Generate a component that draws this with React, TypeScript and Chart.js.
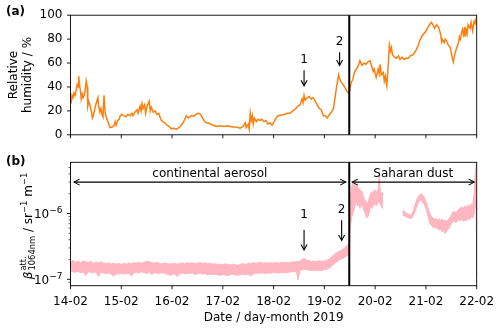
import React, { useEffect, useRef } from 'react';
import { Chart, registerables } from 'chart.js';

Chart.register(...registerables);

const FAMILY = "'DejaVu Sans', 'Liberation Sans', sans-serif";
const ORANGE = '#ff7f0e';
const PINK = '#ffb6c1';

// ---------- axis ticks ----------
const xTickValues = [14, 15, 16, 17, 18, 19, 20, 21, 22];
const xTickLabels = ['14-02', '15-02', '16-02', '17-02', '18-02', '19-02', '20-02', '21-02', '22-02'];
const rhTickValues = [0, 20, 40, 60, 80, 100];
const logMajorTicks = [1e-7, 1e-6];
const logMajorExponents = ['−7', '−6'];
const logMinorTicks = [9e-8, 2e-7, 3e-7, 4e-7, 5e-7, 6e-7, 7e-7, 8e-7, 9e-7, 2e-6, 3e-6, 4e-6, 5e-6];

// ---------- relative humidity (panel a) ----------
const rhDays = [14.01, 14.03, 14.05, 14.07, 14.09, 14.11, 14.13, 14.15, 14.16, 14.18, 14.20, 14.21, 14.23, 14.25, 14.27, 14.29, 14.31, 14.33, 14.34, 14.36, 14.38, 14.41, 14.43, 14.45, 14.48, 14.51, 14.54, 14.55, 14.58, 14.60, 14.62, 14.64, 14.66, 14.68, 14.70, 14.73, 14.76, 14.78, 14.82, 14.86, 14.88, 14.90, 14.93, 14.96, 14.98, 15.01, 15.05, 15.09, 15.13, 15.17, 15.21, 15.23, 15.27, 15.31, 15.33, 15.37, 15.39, 15.41, 15.43, 15.46, 15.48, 15.51, 15.55, 15.57, 15.59, 15.63, 15.67, 15.70, 15.74, 15.76, 15.79, 15.82, 15.86, 15.90, 15.94, 15.99, 16.04, 16.08, 16.12, 16.16, 16.20, 16.24, 16.28, 16.32, 16.35, 16.39, 16.43, 16.47, 16.51, 16.55, 16.59, 16.63, 16.67, 16.71, 16.75, 16.81, 16.87, 16.95, 17.02, 17.10, 17.18, 17.26, 17.34, 17.40, 17.44, 17.46, 17.50, 17.52, 17.54, 17.56, 17.58, 17.60, 17.62, 17.66, 17.69, 17.73, 17.77, 17.81, 17.85, 17.89, 17.93, 17.97, 18.01, 18.05, 18.09, 18.15, 18.21, 18.27, 18.32, 18.38, 18.44, 18.48, 18.52, 18.56, 18.58, 18.60, 18.62, 18.66, 18.70, 18.74, 18.78, 18.82, 18.86, 18.90, 18.94, 18.98, 19.02, 19.06, 19.10, 19.14, 19.18, 19.22, 19.24, 19.26, 19.28, 19.30, 19.33, 19.37, 19.41, 19.45, 19.49, 19.51, 19.53, 19.56, 19.59, 19.63, 19.67, 19.70, 19.74, 19.78, 19.82, 19.86, 19.90, 19.94, 19.96, 19.98, 20.02, 20.06, 20.08, 20.10, 20.12, 20.16, 20.18, 20.20, 20.23, 20.26, 20.28, 20.30, 20.32, 20.34, 20.38, 20.42, 20.46, 20.49, 20.53, 20.57, 20.61, 20.65, 20.69, 20.75, 20.81, 20.85, 20.89, 20.93, 20.99, 21.03, 21.07, 21.11, 21.15, 21.17, 21.21, 21.25, 21.29, 21.31, 21.32, 21.36, 21.38, 21.40, 21.44, 21.48, 21.50, 21.52, 21.54, 21.56, 21.60, 21.64, 21.66, 21.68, 21.70, 21.72, 21.74, 21.76, 21.77, 21.79, 21.81, 21.83, 21.87, 21.89, 21.92, 21.95, 21.97, 22.00];
const rhValues = [26, 33, 31, 35, 33, 37, 42, 40, 49, 41, 36, 30, 34, 31, 33, 38, 45, 40, 24, 28, 25, 20, 14, 16, 22, 27, 31, 25, 19, 22, 17, 15, 33, 20, 15, 12, 8, 6, 6.5, 8, 11, 8, 12, 13, 16, 17, 16, 15, 17, 16, 18, 16, 19, 21, 18, 24, 20, 26, 22, 25, 18, 24, 28, 20, 23, 19, 20, 17, 18, 15, 12, 11, 10, 8, 7, 5, 5.5, 4.5, 5.5, 7, 9, 12, 16, 14, 15, 16, 15.5, 17, 18, 17.5, 15, 12, 10, 10, 9, 8, 7, 7.5, 7, 7.5, 6.5, 6.5, 5.5, 7, 10, 6, 9, 5, 18, 12, 16, 9, 14, 11, 13, 12, 13, 11, 12, 9, 10, 8, 11, 14, 16, 16.5, 17, 18, 18, 20, 22, 24, 25, 30, 27, 33, 29, 31, 32, 30, 31, 28, 25, 22, 21, 16, 16, 14, 17, 19, 22, 34, 40, 45, 50, 47, 44, 42, 39, 36, 35, 40, 44, 46, 52, 55, 58, 62, 58, 60, 59, 61, 62, 56, 53, 55, 48, 55, 51, 59, 50, 52, 45, 49, 41, 60, 75, 70, 73, 67, 65, 64, 66, 63, 65, 63, 64, 64, 66, 67, 71, 75, 80, 83, 86, 89, 92, 94, 91, 89, 92, 90, 84, 78, 80, 77, 80, 79, 75, 73, 68, 64, 61, 66, 72, 77, 82, 80, 85, 88, 84, 90, 82, 88, 84, 92, 89, 94, 87, 95, 93, 99];

// ---------- attenuated backscatter (panel b): band envelope ----------
const btDays = [14.00, 14.05, 14.10, 14.15, 14.20, 14.25, 14.30, 14.35, 14.40, 14.45, 14.50, 14.55, 14.60, 14.65, 14.70, 14.75, 14.80, 14.85, 14.90, 14.95, 15.00, 15.05, 15.10, 15.15, 15.20, 15.25, 15.30, 15.35, 15.40, 15.45, 15.50, 15.55, 15.60, 15.65, 15.70, 15.75, 15.80, 15.85, 15.90, 15.95, 16.00, 16.05, 16.10, 16.15, 16.20, 16.25, 16.30, 16.35, 16.40, 16.45, 16.50, 16.55, 16.60, 16.65, 16.70, 16.75, 16.80, 16.85, 16.90, 16.95, 17.00, 17.05, 17.10, 17.15, 17.20, 17.25, 17.30, 17.35, 17.40, 17.45, 17.50, 17.55, 17.60, 17.65, 17.70, 17.75, 17.80, 17.85, 17.90, 17.95, 18.00, 18.05, 18.10, 18.15, 18.20, 18.25, 18.30, 18.35, 18.40, 18.45, 18.48, 18.52, 18.56, 18.60, 18.65, 18.70, 18.75, 18.80, 18.85, 18.90, 18.95, 19.00, 19.05, 19.10, 19.15, 19.20, 19.25, 19.30, 19.35, 19.40, 19.45, 19.49, 19.50, 19.52, 19.54, 19.56, 19.58, 19.60, 19.62, 19.64, 19.66, 19.68, 19.70, 19.72, 19.74, 19.76, 19.78, 19.80, 19.82, 19.84, 19.86, 19.88, 19.90, 19.92, 19.94, 19.96, 19.98, 20.00, 20.02, 20.04, 20.06, 20.08, 20.10, 20.12, 20.14, 20.16, 20.35, 20.54, 20.57, 20.60, 20.63, 20.66, 20.69, 20.72, 20.75, 20.78, 20.81, 20.84, 20.87, 20.90, 20.93, 20.96, 20.99, 21.02, 21.05, 21.08, 21.11, 21.14, 21.17, 21.20, 21.23, 21.26, 21.29, 21.32, 21.35, 21.38, 21.41, 21.44, 21.47, 21.50, 21.53, 21.56, 21.59, 21.62, 21.65, 21.68, 21.71, 21.74, 21.77, 21.80, 21.83, 21.86, 21.89, 21.92, 21.95, 21.97, 21.99, 22.00];
const btUpper = [1.85e-7, 1.95e-7, 1.80e-7, 1.90e-7, 1.78e-7, 1.92e-7, 1.85e-7, 1.80e-7, 1.88e-7, 1.75e-7, 1.82e-7, 1.78e-7, 1.85e-7, 1.75e-7, 1.72e-7, 1.78e-7, 1.70e-7, 1.76e-7, 1.70e-7, 1.74e-7, 1.68e-7, 1.75e-7, 1.70e-7, 1.78e-7, 1.72e-7, 1.80e-7, 1.76e-7, 1.82e-7, 1.75e-7, 1.80e-7, 1.90e-7, 1.85e-7, 1.80e-7, 1.76e-7, 1.82e-7, 1.75e-7, 1.72e-7, 1.78e-7, 1.74e-7, 1.70e-7, 1.72e-7, 1.76e-7, 1.70e-7, 1.74e-7, 1.78e-7, 1.72e-7, 1.80e-7, 1.75e-7, 1.78e-7, 1.72e-7, 1.76e-7, 1.80e-7, 1.74e-7, 1.78e-7, 1.72e-7, 1.75e-7, 1.70e-7, 1.72e-7, 1.68e-7, 1.70e-7, 1.66e-7, 1.72e-7, 1.68e-7, 1.65e-7, 1.70e-7, 1.66e-7, 1.64e-7, 1.70e-7, 1.72e-7, 1.68e-7, 1.75e-7, 1.72e-7, 1.80e-7, 1.74e-7, 1.78e-7, 1.82e-7, 1.76e-7, 1.80e-7, 1.75e-7, 1.78e-7, 1.76e-7, 1.80e-7, 1.76e-7, 1.82e-7, 1.78e-7, 1.80e-7, 1.78e-7, 1.85e-7, 1.82e-7, 1.88e-7, 1.85e-7, 1.90e-7, 2.00e-7, 2.10e-7, 1.95e-7, 1.92e-7, 1.88e-7, 1.90e-7, 1.86e-7, 1.92e-7, 1.88e-7, 1.90e-7, 1.95e-7, 2.05e-7, 2.20e-7, 2.40e-7, 2.55e-7, 2.70e-7, 2.80e-7, 3.00e-7, 3.30e-7, 3.50e-7, 1.4e-6, 2.0e-6, 2.6e-6, 3.0e-6, 2.2e-6, 2.8e-6, 2.4e-6, 2.7e-6, 2.5e-6, 2.2e-6, 2.4e-6, 2.0e-6, 2.2e-6, 1.9e-6, 1.7e-6, 1.6e-6, 1.5e-6, 1.4e-6, 1.5e-6, 1.7e-6, 1.9e-6, 2.1e-6, 2.0e-6, 2.2e-6, 2.0e-6, 2.3e-6, 2.1e-6, 2.2e-6, 2.4e-6, 4.2e-6, 2.2e-6, 2.0e-6, 2.1e-6, 1.9e-6, null, 1.15e-6, 1.10e-6, 1.02e-6, 1.00e-6, 9.8e-7, 9.4e-7, 9.6e-7, 1.10e-6, 1.30e-6, 1.55e-6, 1.75e-6, 1.90e-6, 2.00e-6, 1.95e-6, 1.80e-6, 1.60e-6, 1.40e-6, 1.15e-6, 1.00e-6, 9.0e-7, 8.5e-7, 8.2e-7, 8.4e-7, 8.0e-7, 8.3e-7, 7.9e-7, 8.2e-7, 7.8e-7, 8.0e-7, 7.6e-7, 8.0e-7, 8.6e-7, 9.6e-7, 1.05e-6, 1.08e-6, 1.02e-6, 1.10e-6, 1.16e-6, 1.22e-6, 1.26e-6, 1.20e-6, 1.30e-6, 1.25e-6, 1.35e-6, 1.28e-6, 1.40e-6, 1.30e-6, 2.0e-6, 4.0e-6, 5.5e-6, 4.8e-6];
const btLower = [1.35e-7, 1.30e-7, 1.28e-7, 1.32e-7, 1.25e-7, 1.30e-7, 1.15e-7, 1.30e-7, 1.28e-7, 1.27e-7, 1.30e-7, 1.10e-7, 1.28e-7, 1.25e-7, 1.22e-7, 1.26e-7, 1.20e-7, 1.12e-7, 1.22e-7, 1.20e-7, 1.24e-7, 1.20e-7, 1.22e-7, 1.25e-7, 1.12e-7, 1.26e-7, 1.28e-7, 1.25e-7, 1.30e-7, 1.27e-7, 1.22e-7, 1.30e-7, 1.18e-7, 1.26e-7, 1.25e-7, 1.22e-7, 1.26e-7, 1.24e-7, 1.20e-7, 1.15e-7, 1.18e-7, 1.22e-7, 1.10e-7, 1.22e-7, 1.25e-7, 1.20e-7, 1.24e-7, 1.22e-7, 1.25e-7, 1.18e-7, 1.22e-7, 1.24e-7, 1.20e-7, 1.22e-7, 1.16e-7, 1.20e-7, 1.18e-7, 1.20e-7, 1.17e-7, 1.15e-7, 1.18e-7, 1.16e-7, 1.14e-7, 1.18e-7, 1.20e-7, 1.17e-7, 1.15e-7, 1.18e-7, 1.20e-7, 1.16e-7, 1.20e-7, 1.12e-7, 1.22e-7, 1.25e-7, 1.22e-7, 1.26e-7, 1.24e-7, 1.22e-7, 1.26e-7, 1.24e-7, 1.28e-7, 1.26e-7, 1.24e-7, 1.28e-7, 1.26e-7, 1.27e-7, 1.28e-7, 1.30e-7, 1.30e-7, 1.32e-7, 0.98e-7, 1.35e-7, 1.40e-7, 1.42e-7, 1.40e-7, 1.38e-7, 1.36e-7, 1.38e-7, 1.35e-7, 1.38e-7, 1.36e-7, 1.40e-7, 1.42e-7, 1.50e-7, 1.60e-7, 1.75e-7, 1.85e-7, 2.00e-7, 2.05e-7, 2.15e-7, 2.30e-7, 2.40e-7, 5.5e-7, 7.0e-7, 9.0e-7, 1.0e-6, 1.1e-6, 1.3e-6, 1.4e-6, 1.5e-6, 1.3e-6, 1.4e-6, 1.2e-6, 1.3e-6, 1.4e-6, 1.2e-6, 1.1e-6, 1.0e-6, 9.0e-7, 8.6e-7, 9.0e-7, 1.0e-6, 1.2e-6, 1.3e-6, 1.2e-6, 1.3e-6, 1.4e-6, 1.4e-6, 1.3e-6, 1.4e-6, 1.5e-6, 1.5e-6, 1.4e-6, 1.3e-6, 1.2e-6, 1.2e-6, null, 9.5e-7, 9.3e-7, 8.9e-7, 8.8e-7, 8.6e-7, 8.4e-7, 8.5e-7, 9.2e-7, 1.05e-6, 1.20e-6, 1.40e-6, 1.55e-6, 1.60e-6, 1.50e-6, 1.40e-6, 1.26e-6, 1.05e-6, 8.5e-7, 7.0e-7, 6.5e-7, 6.2e-7, 6.0e-7, 6.2e-7, 5.8e-7, 5.6e-7, 5.8e-7, 5.2e-7, 5.6e-7, 4.9e-7, 5.5e-7, 5.8e-7, 6.2e-7, 7.0e-7, 7.5e-7, 7.6e-7, 7.2e-7, 7.8e-7, 8.0e-7, 7.8e-7, 8.2e-7, 7.6e-7, 8.0e-7, 7.8e-7, 8.5e-7, 8.0e-7, 9.0e-7, 8.5e-7, 1.0e-6, 1.2e-6, 1.5e-6, 1.1e-7];

// ---------- annotations ----------
const eventDay = 19.49;
const arrowLabels = ['1', '2'];
const topArrowDays = [18.6, 19.3];
const topArrowTail = [54, 69];
const topArrowTip = [41, 58];
const topArrowText = [63, 78];
const botArrowDays = [18.6, 19.34];
const botArrowTail = [5.6e-7, 7.9e-7];
const botArrowTip = [2.8e-7, 3.9e-7];
const botArrowText = [9.4e-7, 1.15e-6];
const periodLabels = ['continental aerosol', 'Saharan dust'];
const periodStart = [14.07, 19.55];
const periodEnd = [19.42, 21.95];
const periodArrowY = 3.0e-6;
const periodTextY = 4.05e-6;

const font = (size: number, extra = '') => `${extra} ${size}px ${FAMILY}`.trim();

function line(ctx: CanvasRenderingContext2D, x0: number, y0: number, x1: number, y1: number) {
  ctx.beginPath();
  ctx.moveTo(x0, y0);
  ctx.lineTo(x1, y1);
  ctx.stroke();
}

function head(ctx: CanvasRenderingContext2D, tx: number, ty: number, dx: number, dy: number) {
  const len = 5.5, half = 3;
  const bx = tx - dx * len, by = ty - dy * len;
  const px = -dy, py = dx;
  ctx.beginPath();
  ctx.moveTo(bx + px * half, by + py * half);
  ctx.lineTo(tx, ty);
  ctx.lineTo(bx - px * half, by - py * half);
  ctx.stroke();
}

function drawFrameAndTicks(chart: any, logMode: boolean) {
  const { ctx, chartArea: a, scales } = chart;
  const x = scales.x, y = scales.y;
  ctx.save();
  ctx.strokeStyle = '#000';
  ctx.fillStyle = '#000';
  ctx.lineWidth = 0.9;
  ctx.strokeRect(a.left, a.top, a.right - a.left, a.bottom - a.top);
  xTickValues.forEach((v, i) => {
    const px = x.getPixelForValue(v);
    line(ctx, px, a.bottom, px, a.bottom + 3.5);
    if (logMode) {
      ctx.font = font(12);
      ctx.textAlign = 'center';
      ctx.textBaseline = 'alphabetic';
      ctx.fillText(xTickLabels[i], px, a.bottom + 19.3);
    }
  });
  if (!logMode) {
    rhTickValues.forEach((v) => {
      const py = y.getPixelForValue(v);
      line(ctx, a.left - 3.5, py, a.left, py);
    });
  } else {
    logMajorTicks.forEach((v, i) => {
      const py = y.getPixelForValue(v);
      line(ctx, a.left - 3.5, py, a.left, py);
      ctx.textBaseline = 'alphabetic';
      ctx.textAlign = 'left';
      ctx.font = font(9);
      const we = ctx.measureText(logMajorExponents[i]).width;
      ctx.font = font(12);
      const wb = ctx.measureText('10').width;
      const right = a.left - 8;
      const base = py + 4.4;
      ctx.fillText('10', right - we - wb, base);
      ctx.font = font(9);
      ctx.fillText(logMajorExponents[i], right - we, base - 5);
    });
    ctx.lineWidth = 0.6;
    logMinorTicks.forEach((v) => {
      const py = y.getPixelForValue(v);
      if (py < a.top || py > a.bottom) return;
      line(ctx, a.left - 2, py, a.left, py);
    });
  }
  ctx.restore();
}

const topPlugin = {
  id: 'topDecor',
  afterDatasetsDraw(chart: any) {
    const { ctx, chartArea: a, scales } = chart;
    const x = scales.x, y = scales.y;
    ctx.save();
    ctx.strokeStyle = '#000';
    ctx.lineWidth = 2;
    const ex = x.getPixelForValue(eventDay);
    line(ctx, ex, a.top, ex, a.bottom);
    ctx.lineWidth = 1.1;
    ctx.fillStyle = '#000';
    ctx.font = font(12);
    ctx.textAlign = 'center';
    ctx.textBaseline = 'middle';
    topArrowDays.forEach((d, i) => {
      const px = x.getPixelForValue(d);
      const y0 = y.getPixelForValue(topArrowTail[i]);
      const y1 = y.getPixelForValue(topArrowTip[i]);
      line(ctx, px, y0, px, y1);
      head(ctx, px, y1, 0, 1);
      ctx.fillText(arrowLabels[i], px, y.getPixelForValue(topArrowText[i]));
    });
    ctx.restore();
  },
  afterDraw(chart: any) {
    const { ctx, chartArea: a } = chart;
    drawFrameAndTicks(chart, false);
    ctx.save();
    ctx.fillStyle = '#000';
    ctx.font = font(12, 'bold');
    ctx.textAlign = 'left';
    ctx.textBaseline = 'alphabetic';
    ctx.fillText('(a)', 6, 15);
    const yc = (a.top + a.bottom) / 2;
    ctx.font = font(12);
    ctx.textAlign = 'center';
    [['Relative', 16.5], ['humidity / %', 31]].forEach(([t, xb]) => {
      ctx.save();
      ctx.translate(xb as number, yc);
      ctx.rotate(-Math.PI / 2);
      ctx.fillText(t as string, 0, 0);
      ctx.restore();
    });
    ctx.restore();
  },
};

function drawBetaLabel(ctx: CanvasRenderingContext2D, xb: number, yc: number) {
  const fBig = font(12);
  const fBeta = font(12, 'italic');
  const fSmall = font(8.4);
  ctx.save();
  ctx.translate(xb, yc);
  ctx.rotate(-Math.PI / 2);
  ctx.fillStyle = '#000';
  ctx.textAlign = 'left';
  ctx.textBaseline = 'alphabetic';
  ctx.font = fBeta;
  const wb = ctx.measureText('β').width;
  ctx.font = fSmall;
  const wsup = ctx.measureText('att.').width;
  const wsub = ctx.measureText('1064nm').width;
  const wexp = ctx.measureText('−1').width;
  ctx.font = fBig;
  const w1 = ctx.measureText(' / sr').width;
  const w2 = ctx.measureText(' m').width;
  const total = wb + 1 + Math.max(wsup, wsub) + w1 + wexp + w2 + wexp;
  let x = -total / 2;
  ctx.font = fBeta;
  ctx.fillText('β', x, 0);
  x += wb + 1;
  ctx.font = fSmall;
  ctx.fillText('att.', x, -6);
  ctx.fillText('1064nm', x, 3);
  x += Math.max(wsup, wsub);
  ctx.font = fBig;
  ctx.fillText(' / sr', x, 0);
  x += w1;
  ctx.font = fSmall;
  ctx.fillText('−1', x, -5);
  x += wexp;
  ctx.font = fBig;
  ctx.fillText(' m', x, 0);
  x += w2;
  ctx.font = fSmall;
  ctx.fillText('−1', x, -5);
  ctx.restore();
}

const botPlugin = {
  id: 'botDecor',
  afterDatasetsDraw(chart: any) {
    const { ctx, chartArea: a, scales } = chart;
    const x = scales.x, y = scales.y;
    ctx.save();
    ctx.strokeStyle = '#000';
    ctx.lineWidth = 2;
    const ex = x.getPixelForValue(eventDay);
    line(ctx, ex, a.top, ex, a.bottom);
    ctx.lineWidth = 1.1;
    ctx.fillStyle = '#000';
    ctx.font = font(12);
    ctx.textAlign = 'center';
    ctx.textBaseline = 'middle';
    botArrowDays.forEach((d, i) => {
      const px = x.getPixelForValue(d);
      const y0 = y.getPixelForValue(botArrowTail[i]);
      const y1 = y.getPixelForValue(botArrowTip[i]);
      line(ctx, px, y0, px, y1);
      head(ctx, px, y1, 0, 1);
      ctx.fillText(arrowLabels[i], px, y.getPixelForValue(botArrowText[i]));
    });
    const ay = y.getPixelForValue(periodArrowY);
    const ty = y.getPixelForValue(periodTextY);
    periodLabels.forEach((t, i) => {
      const x0 = x.getPixelForValue(periodStart[i]);
      const x1 = x.getPixelForValue(periodEnd[i]);
      line(ctx, x0, ay, x1, ay);
      head(ctx, x0, ay, -1, 0);
      head(ctx, x1, ay, 1, 0);
      ctx.fillText(t, (x0 + x1) / 2, ty);
    });
    ctx.restore();
  },
  afterDraw(chart: any) {
    const { ctx, chartArea: a } = chart;
    drawFrameAndTicks(chart, true);
    ctx.save();
    ctx.fillStyle = '#000';
    ctx.font = font(12, 'bold');
    ctx.textAlign = 'left';
    ctx.textBaseline = 'alphabetic';
    ctx.fillText('(b)', 6, 15);
    ctx.font = font(12);
    ctx.textAlign = 'center';
    ctx.fillText('Date / day-month 2019', (a.left + a.right) / 2, 171);
    ctx.restore();
    drawBetaLabel(ctx, 32, (a.top + a.bottom) / 2 + 2);
  },
};

const xScaleBase = (height: number) => ({
  type: 'linear' as const,
  min: 14,
  max: 22,
  grid: { display: false, drawTicks: false },
  border: { display: false },
  afterFit: (s: any) => { s.height = height; s.paddingLeft = 0; s.paddingRight = 0; },
  afterBuildTicks: (s: any) => { s.ticks = xTickValues.map((v) => ({ value: v })); },
  ticks: { display: false },
});

export default function App() {
  const topRef = useRef<HTMLCanvasElement>(null);
  const botRef = useRef<HTMLCanvasElement>(null);

  useEffect(() => {
    document.body.style.margin = '0';
    const top = new Chart(topRef.current!, {
      type: 'line',
      data: {
        datasets: [{
          data: rhDays.map((d, i) => ({ x: d, y: rhValues[i] })),
          borderColor: ORANGE,
          borderWidth: 1.5,
          pointRadius: 0,
          tension: 0,
          fill: false,
        }],
      },
      options: {
        animation: false,
        responsive: false,
        devicePixelRatio: 1,
        events: [],
        layout: { padding: { left: 0, right: 23.3, top: 11, bottom: 0 } },
        plugins: { legend: { display: false }, tooltip: { enabled: false } },
        scales: {
          x: xScaleBase(15),
          y: {
            type: 'linear',
            min: 0,
            max: 100,
            grid: { display: false, drawTicks: false },
            border: { display: false },
            afterFit: (s: any) => { s.width = 70.5; },
            afterBuildTicks: (s: any) => { s.ticks = rhTickValues.map((v) => ({ value: v })); },
            ticks: { padding: 8, color: '#000', font: { family: FAMILY, size: 12 } },
          },
        },
      },
      plugins: [topPlugin],
    });

    const bot = new Chart(botRef.current!, {
      type: 'line',
      data: {
        datasets: [
          {
            data: btDays.map((d, i) => ({ x: d, y: btLower[i] })),
            borderColor: PINK,
            borderWidth: 1,
            pointRadius: 0,
            tension: 0,
            fill: false,
            spanGaps: false,
          },
          {
            data: btDays.map((d, i) => ({ x: d, y: btUpper[i] })),
            borderColor: PINK,
            backgroundColor: PINK,
            borderWidth: 1,
            pointRadius: 0,
            tension: 0,
            fill: '-1',
            spanGaps: false,
          },
        ],
      },
      options: {
        animation: false,
        responsive: false,
        devicePixelRatio: 1,
        events: [],
        layout: { padding: { left: 0, right: 23.3, top: 12.3, bottom: 0 } },
        plugins: { legend: { display: false }, tooltip: { enabled: false } },
        scales: {
          x: xScaleBase(44.3),
          y: {
            type: 'logarithmic',
            min: 8e-8,
            max: 6e-6,
            grid: { display: false, drawTicks: false },
            border: { display: false },
            afterFit: (s: any) => { s.width = 70.5; },
            ticks: { display: false },
          },
        },
      },
      plugins: [botPlugin],
    });

    return () => {
      top.destroy();
      bot.destroy();
    };
  }, []);

  return (
    <div style={{ position: 'absolute', left: 0, top: 0, width: 500, height: 330, background: '#fff' }}>
      <canvas ref={topRef} width={500} height={150} style={{ position: 'absolute', left: 0, top: 0, width: 500, height: 150 }} />
      <canvas ref={botRef} width={500} height={180} style={{ position: 'absolute', left: 0, top: 150, width: 500, height: 180 }} />
    </div>
  );
}
